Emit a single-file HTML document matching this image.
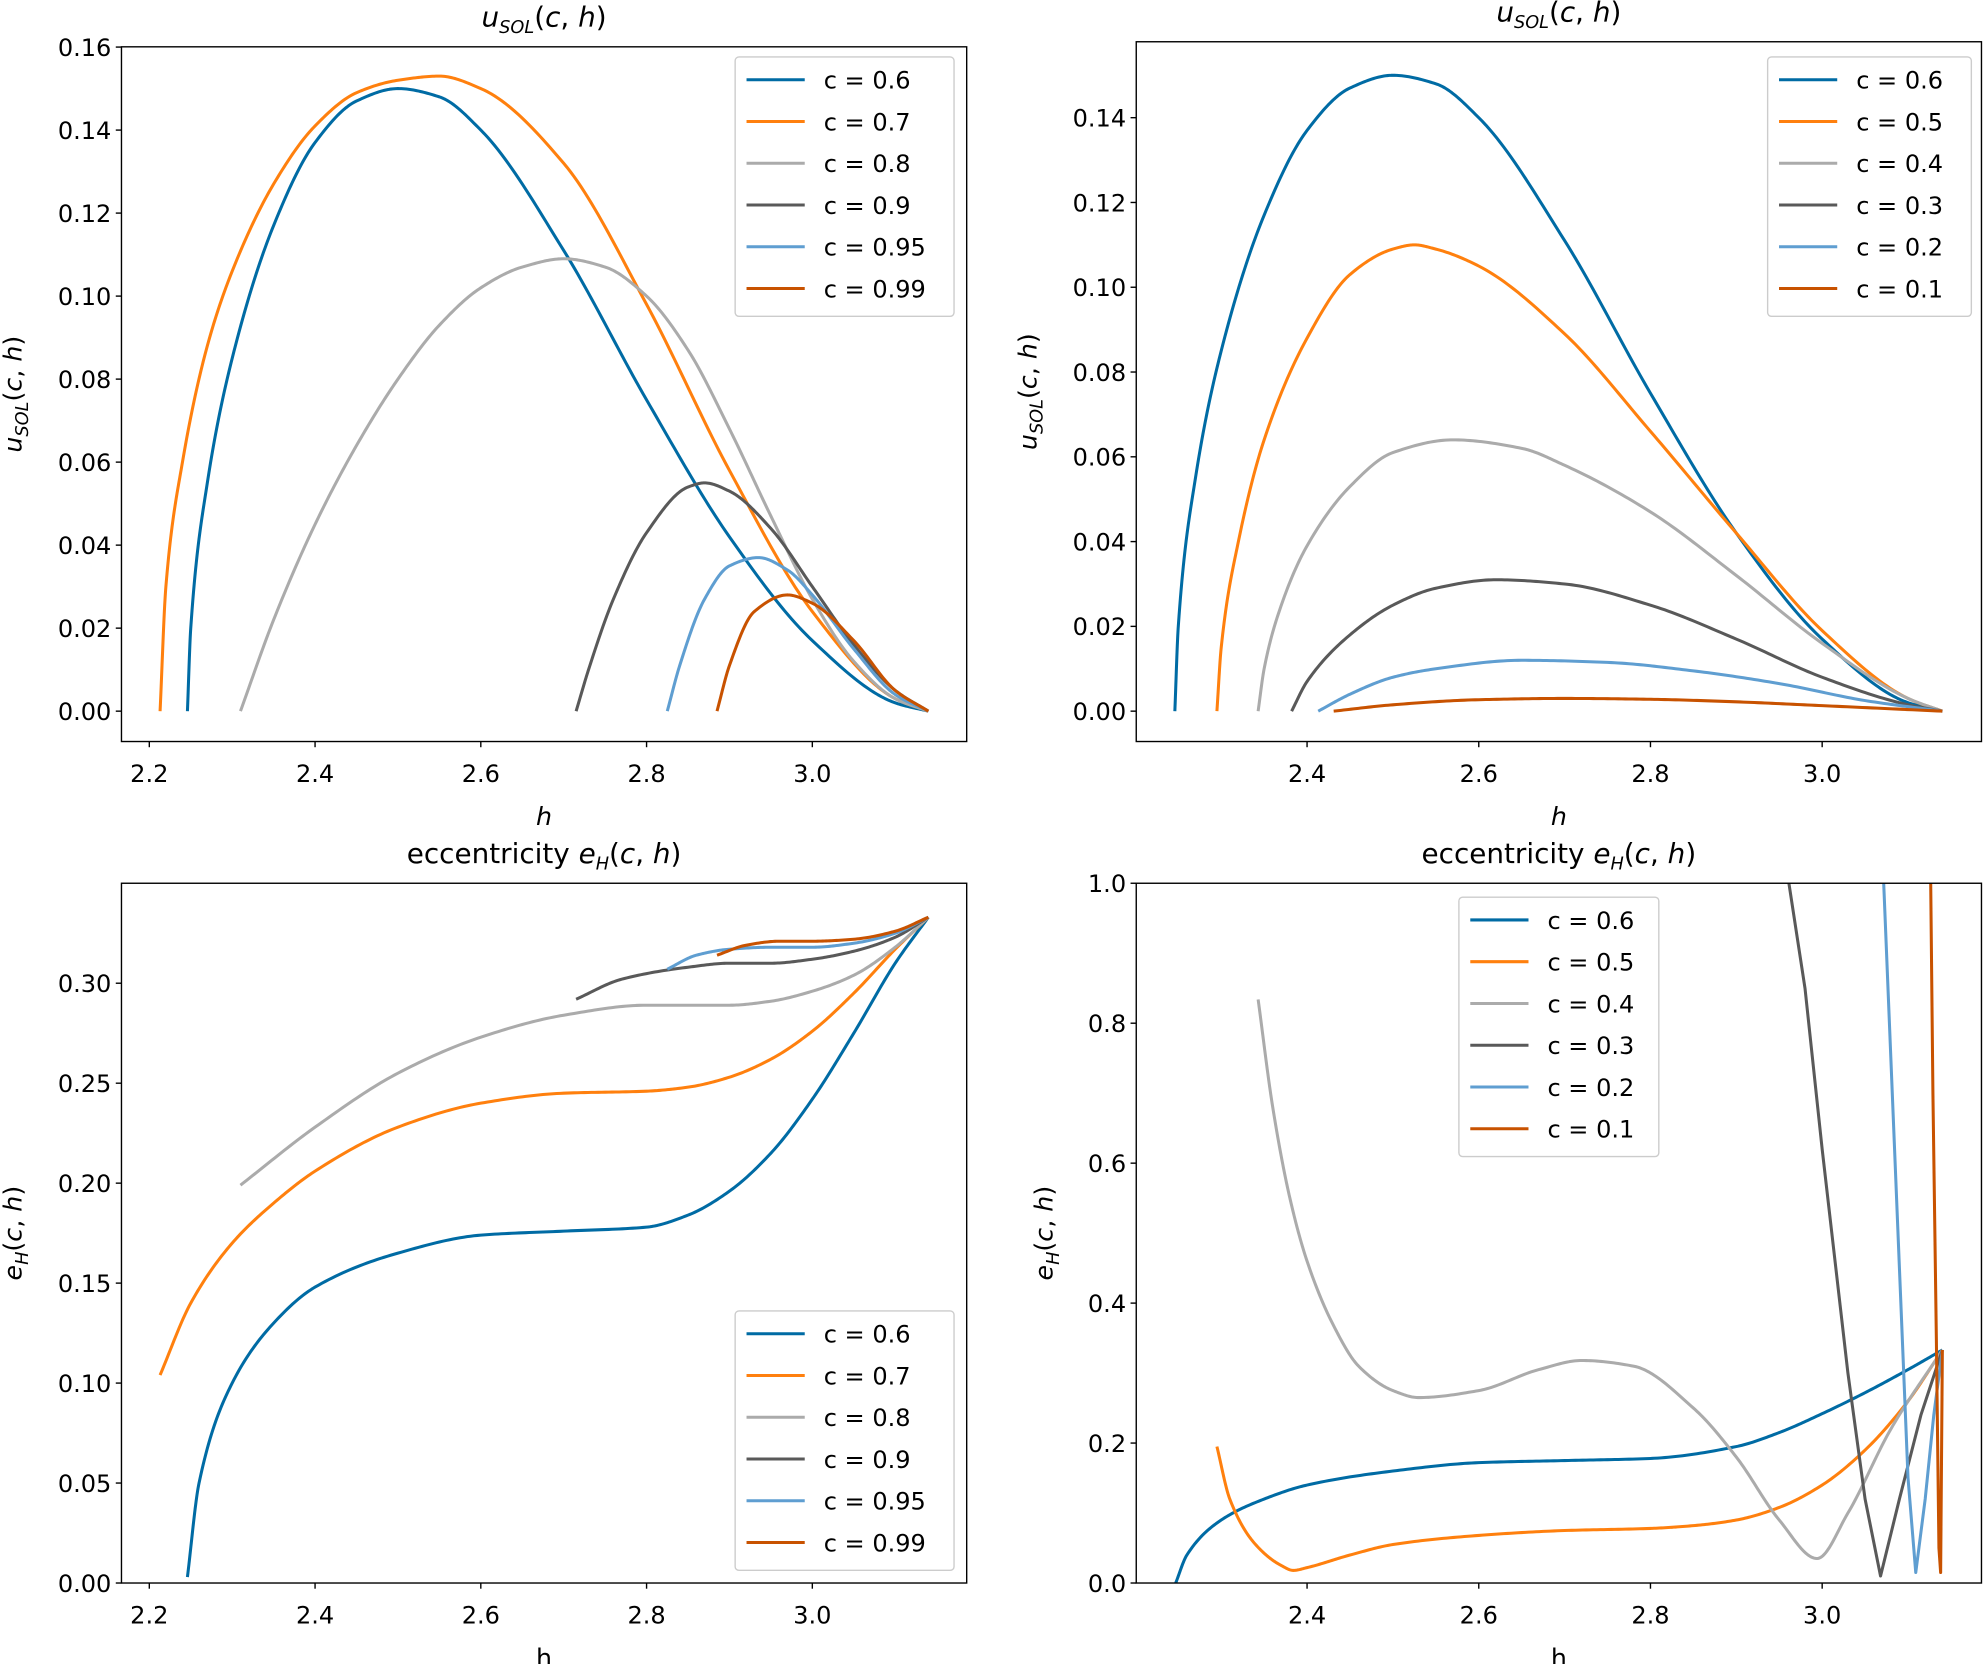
<!DOCTYPE html>
<html><head><meta charset="utf-8"><style>
html,body{margin:0;padding:0;background:#fff}
svg{display:block}
text{font-family:"DejaVu Sans","Liberation Sans",sans-serif;fill:#000}
</style></head><body>
<svg id="fig" width="1984" height="1664" viewBox="0 0 1568 1315" preserveAspectRatio="none" xmlns="http://www.w3.org/2000/svg"></svg>
<script>
// ---------- DATA ----------
const tlLabels = ["c = 0.6","c = 0.7","c = 0.8","c = 0.9","c = 0.95","c = 0.99"];
const trLabels = ["c = 0.6","c = 0.5","c = 0.4","c = 0.3","c = 0.2","c = 0.1"];
const colors = ["#006BA4","#FF800E","#ABABAB","#595959","#5F9ED1","#C85200"];

const tlH = [
 [2.246,2.25,2.27,2.3,2.35,2.4,2.45,2.5,2.55,2.6,2.7,2.8,2.9,3.0,3.1,3.14],
 [2.213,2.22,2.24,2.27,2.3,2.35,2.4,2.45,2.5,2.55,2.6,2.7,2.8,2.9,3.0,3.1,3.14],
 [2.31,2.35,2.4,2.45,2.5,2.55,2.6,2.65,2.7,2.75,2.8,2.85,2.9,2.95,3.0,3.05,3.1,3.14],
 [2.715,2.73,2.76,2.8,2.85,2.87,2.9,2.95,3.0,3.05,3.1,3.14],
 [2.825,2.84,2.87,2.9,2.935,2.97,3.0,3.05,3.1,3.14],
 [2.885,2.9,2.93,2.97,3.0,3.05,3.1,3.14]];
const tlV = [
 [0,0.02,0.055,0.085,0.117,0.137,0.147,0.150,0.148,0.140,0.111,0.075,0.042,0.017,0.002,0],
 [0,0.03,0.06,0.088,0.106,0.127,0.141,0.149,0.152,0.153,0.150,0.132,0.098,0.058,0.024,0.003,0],
 [0,0.022,0.045,0.064,0.080,0.093,0.102,0.107,0.109,0.107,0.100,0.087,0.068,0.047,0.027,0.012,0.003,0],
 [0,0.01,0.027,0.043,0.054,0.055,0.053,0.044,0.030,0.016,0.005,0],
 [0,0.011,0.027,0.035,0.037,0.034,0.028,0.015,0.004,0],
 [0,0.011,0.024,0.028,0.026,0.017,0.005,0]];

const trH = [
 [2.246,2.25,2.27,2.3,2.35,2.4,2.45,2.5,2.55,2.6,2.7,2.8,2.9,3.0,3.1,3.14],
 [2.295,2.3,2.32,2.35,2.4,2.45,2.5,2.525,2.55,2.6,2.7,2.8,2.9,3.0,3.1,3.14],
 [2.343,2.35,2.37,2.4,2.45,2.5,2.57,2.65,2.7,2.8,2.9,3.0,3.1,3.14],
 [2.382,2.4,2.45,2.5,2.55,2.62,2.7,2.8,2.9,3.0,3.1,3.14],
 [2.413,2.45,2.5,2.55,2.65,2.75,2.85,2.95,3.05,3.14],
 [2.431,2.5,2.6,2.7,2.8,2.9,3.0,3.14]];
const trV = [
 [0,0.02,0.055,0.085,0.117,0.137,0.147,0.150,0.148,0.140,0.111,0.075,0.042,0.017,0.002,0],
 [0,0.015,0.04,0.064,0.088,0.103,0.109,0.110,0.109,0.105,0.089,0.066,0.042,0.019,0.003,0],
 [0,0.01,0.025,0.039,0.053,0.061,0.064,0.062,0.058,0.047,0.032,0.016,0.003,0],
 [0,0.007,0.018,0.025,0.029,0.031,0.030,0.025,0.017,0.008,0.0015,0],
 [0,0.004,0.008,0.010,0.012,0.0115,0.0095,0.0065,0.0025,0],
 [0,0.0015,0.0027,0.003,0.0028,0.0022,0.0013,0]];

const blH = [
 [2.246,2.26,2.3,2.35,2.4,2.5,2.6,2.7,2.8,2.85,2.9,2.95,3.0,3.05,3.1,3.14],
 [2.213,2.25,2.3,2.35,2.4,2.5,2.6,2.7,2.8,2.85,2.9,2.95,3.0,3.05,3.1,3.14],
 [2.31,2.4,2.5,2.6,2.7,2.8,2.9,2.95,3.0,3.05,3.1,3.14],
 [2.715,2.77,2.85,2.9,2.95,3.0,3.05,3.1,3.14],
 [2.825,2.86,2.9,2.95,3.0,3.05,3.1,3.14],
 [2.885,2.92,2.96,3.0,3.05,3.1,3.14]];
const blV = [
 [0.003,0.05,0.10,0.13,0.148,0.165,0.174,0.176,0.178,0.184,0.196,0.215,0.242,0.275,0.31,0.333],
 [0.104,0.14,0.17,0.19,0.206,0.228,0.24,0.245,0.246,0.248,0.253,0.262,0.276,0.295,0.317,0.333],
 [0.199,0.228,0.255,0.273,0.284,0.289,0.289,0.291,0.296,0.304,0.318,0.333],
 [0.292,0.302,0.308,0.31,0.31,0.312,0.316,0.323,0.333],
 [0.307,0.314,0.317,0.318,0.318,0.32,0.325,0.333],
 [0.314,0.319,0.321,0.321,0.322,0.326,0.333]];

const brH = [
 [2.247,2.26,2.3,2.35,2.4,2.5,2.6,2.7,2.8,2.9,2.95,3.0,3.05,3.1,3.14],
 [2.295,2.31,2.34,2.37,2.384,2.4,2.45,2.5,2.6,2.7,2.8,2.85,2.9,2.95,3.0,3.05,3.1,3.14],
 [2.343,2.36,2.38,2.4,2.43,2.46,2.5,2.53,2.6,2.67,2.72,2.78,2.85,2.9,2.95,2.994,3.03,3.08,3.14],
 [2.955,2.98,3.0,3.03,3.05,3.068,3.09,3.115,3.14],
 [3.07,3.08,3.09,3.1,3.109,3.12,3.13,3.14],
 [3.126,3.129,3.133,3.136,3.138,3.14]];
const brV = [
 [0,0.04,0.09,0.12,0.14,0.16,0.172,0.175,0.178,0.195,0.215,0.242,0.272,0.305,0.333],
 [0.195,0.12,0.055,0.025,0.018,0.022,0.04,0.055,0.068,0.075,0.078,0.082,0.09,0.108,0.14,0.19,0.26,0.333],
 [0.834,0.68,0.55,0.46,0.37,0.31,0.275,0.265,0.275,0.305,0.318,0.31,0.25,0.18,0.09,0.035,0.1,0.22,0.333],
 [1.05,0.85,0.62,0.3,0.12,0.01,0.12,0.24,0.333],
 [1.05,0.75,0.45,0.15,0.015,0.12,0.24,0.333],
 [1.05,0.7,0.35,0.05,0.015,0.333]];

const xTicksL = [2.2,2.4,2.6,2.8,3.0];
const xTicksR = [2.4,2.6,2.8,3.0];
const yTicksTL = [0,0.02,0.04,0.06,0.08,0.10,0.12,0.14,0.16];
const yTicksTR = [0,0.02,0.04,0.06,0.08,0.10,0.12,0.14];
const yTicksBL = [0,0.05,0.10,0.15,0.20,0.25,0.30];
const yTicksBR = [0,0.2,0.4,0.6,0.8,1.0];

// ---------- DRAW ----------
const NS = "http://www.w3.org/2000/svg";
const fig = document.getElementById("fig");
function mk(tag, attrs, parent){const e=document.createElementNS(NS,tag);for(const k in attrs)e.setAttribute(k,attrs[k]);(parent||fig).appendChild(e);return e;}

// monotone cubic (Fritsch-Carlson) interpolation in data space
function monotone(xs, ys){
  const n=xs.length, d=[], m=new Array(n);
  for(let i=0;i<n-1;i++) d.push((ys[i+1]-ys[i])/(xs[i+1]-xs[i]));
  m[0]=d[0]; m[n-1]=d[n-2];
  for(let i=1;i<n-1;i++){
    if(d[i-1]*d[i]<=0) m[i]=0;
    else { const w1=2*(xs[i+1]-xs[i])+(xs[i]-xs[i-1]), w2=(xs[i+1]-xs[i])+2*(xs[i]-xs[i-1]);
      m[i]=(w1+w2)/(w1/d[i-1]+w2/d[i]); }
  }
  const out=[];
  for(let i=0;i<n-1;i++){
    const h=xs[i+1]-xs[i], N=24;
    for(let k=0;k<N;k++){
      const t=k/N, t2=t*t, t3=t2*t;
      const y=(2*t3-3*t2+1)*ys[i]+(t3-2*t2+t)*h*m[i]+(-2*t3+3*t2)*ys[i+1]+(t3-t2)*h*m[i+1];
      out.push([xs[i]+t*h,y]);
    }
  }
  out.push([xs[n-1],ys[n-1]]);
  return out;
}

function panel(o){
  const g=mk("g",{});
  
  
  const sx=h=>o.hx0+(h-o.h0)*o.hs;
  const sy=v=>o.vy0-v*o.vs;
  const cid="clip-"+o.name;
  const cp=mk("clipPath",{id:cid},g);
  mk("rect",{x:o.x0,y:o.y0,width:o.x1-o.x0,height:o.y1-o.y0},cp);
  const lines=mk("g",{"clip-path":"url(#"+cid+")"},g);
  o.H.forEach((hs,i)=>{
    const dpts=(o.linear&&i>=3)?hs.map((h,j)=>[h,o.V[i][j]]):monotone(hs,o.V[i]);
    const pts=dpts.map(q=>[sx(q[0]),sy(q[1])]);
    const p=mk("path",{d:"M"+pts.map(q=>q[0].toFixed(2)+","+q[1].toFixed(2)).join("L"),fill:"none",stroke:colors[i],"stroke-width":2.4,"stroke-linejoin":"round"},lines);
    
    
  });
  const fr=mk("rect",{x:o.x0,y:o.y0,width:o.x1-o.x0,height:o.y1-o.y0,fill:"none",stroke:"#000","stroke-width":1.1},g);
  
  
  o.xt.forEach(t=>{
    const x=sx(t);
    mk("line",{x1:x,x2:x,y1:o.y1,y2:o.y1+4.5,stroke:"#000","stroke-width":1.1},g);
    const tx=mk("text",{x:x,y:o.y1+32,"text-anchor":"middle","font-size":19},g);
    tx.textContent=t.toFixed(1);
    
    
  });
  o.yt.forEach(t=>{
    const y=sy(t);
    mk("line",{x1:o.x0-4.5,x2:o.x0,y1:y,y2:y,stroke:"#000","stroke-width":1.1},g);
    const tx=mk("text",{x:o.x0-8,y:y+7,"text-anchor":"end","font-size":19},g);
    tx.textContent=t.toFixed(o.yd);
    
    
  });
  const cx=(o.x0+o.x1)/2;
  const ti=mk("text",{x:cx,y:o.y0-16,"text-anchor":"middle","font-size":22},g);
  ti.innerHTML=o.title;
  
  
  const xl=mk("text",{x:cx,y:o.y1+66,"text-anchor":"middle","font-size":20,"font-style":o.xit?"italic":"normal"},g);
  xl.textContent="h";
  
  
  const ym=(o.y0+o.y1)/2;
  const yl=mk("text",{x:o.ylx,y:ym,"text-anchor":"middle","font-size":20,transform:"rotate(-90 "+o.ylx+" "+ym+")"},g);
  yl.innerHTML=o.ylab;
  
  
  const L=o.leg;
  const lg=mk("g",{},g);
  
  
  mk("rect",{x:L.x,y:L.y,width:L.w,height:205,rx:3,fill:"#fff","fill-opacity":0.8,stroke:"#ccc","stroke-width":1.1},lg);
  o.labels.forEach((lab,i)=>{
    const y=L.y+18+i*33;
    const e=mk("g",{},lg);
    
    
    mk("line",{x1:L.x+9,x2:L.x+55,y1:y,y2:y,stroke:colors[i],"stroke-width":2.4},e);
    const t=mk("text",{x:L.x+70,y:y+7,"font-size":19},e);
    t.textContent=lab;
  });
}

const uT='<tspan font-style="italic">u</tspan><tspan font-style="italic" font-size="14" dy="5">SOL</tspan><tspan dy="-5">(</tspan><tspan font-style="italic">c</tspan>, <tspan font-style="italic">h</tspan>)';
const eT='eccentricity <tspan font-style="italic">e</tspan><tspan font-style="italic" font-size="14" dy="5">H</tspan><tspan dy="-5">(</tspan><tspan font-style="italic">c</tspan>, <tspan font-style="italic">h</tspan>)';
const eY='<tspan font-style="italic">e</tspan><tspan font-style="italic" font-size="14" dy="5">H</tspan><tspan dy="-5">(</tspan><tspan font-style="italic">c</tspan>, <tspan font-style="italic">h</tspan>)';

panel({name:"usol-panel-left",x0:96,x1:764,y0:37,y1:586,hx0:118,h0:2.2,hs:655,vy0:562,vs:3280,
  H:tlH,V:tlV,labels:tlLabels,xt:xTicksL,yt:yTicksTL,yd:2,title:uT,ylab:uT,ylx:17,xit:true,leg:{x:581,y:45,w:173}});
panel({name:"usol-panel-right",x0:898,x1:1566,y0:33,y1:586,hx0:1033,h0:2.4,hs:678.5,vy0:562,vs:3350,
  H:trH,V:trV,labels:trLabels,xt:xTicksR,yt:yTicksTR,yd:2,title:uT,ylab:uT,ylx:819,xit:true,leg:{x:1397,y:45,w:161}});
panel({name:"ecc-panel-left",x0:96,x1:764,y0:698,y1:1251,hx0:118,h0:2.2,hs:655,vy0:1251,vs:1580,
  H:blH,V:blV,labels:tlLabels,xt:xTicksL,yt:yTicksBL,yd:2,title:eT,ylab:eY,ylx:17,xit:false,leg:{x:581,y:1036,w:173}});
panel({name:"ecc-panel-right",x0:898,x1:1566,y0:698,y1:1251,hx0:1033,h0:2.4,hs:678.5,vy0:1251,vs:553,linear:true,
  H:brH,V:brV,labels:trLabels,xt:xTicksR,yt:yTicksBR,yd:1,title:eT,ylab:eY,ylx:832,xit:false,leg:{x:1153,y:709,w:158}});
</script>
</body></html>
